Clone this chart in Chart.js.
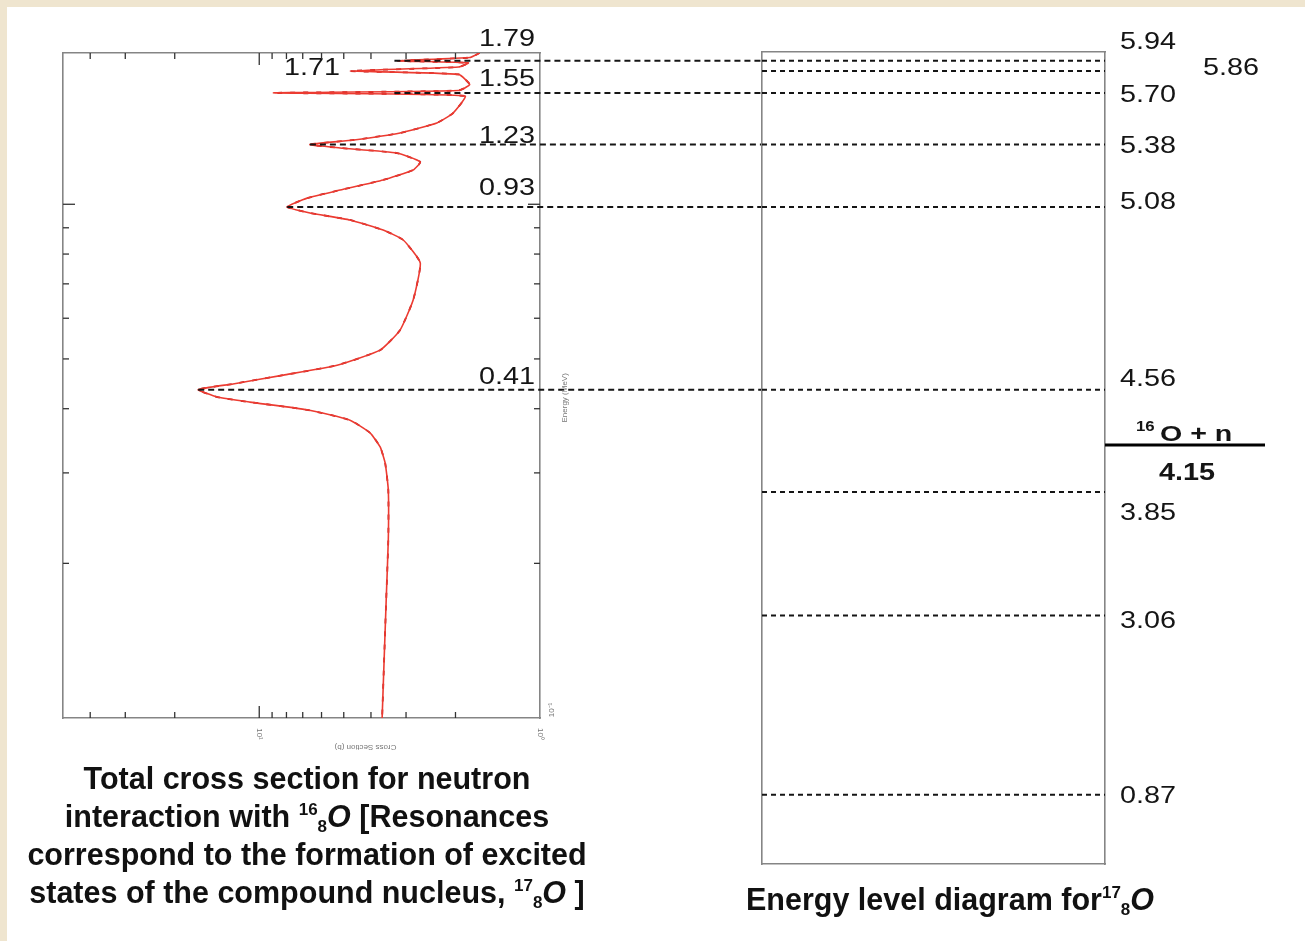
<!DOCTYPE html>
<html>
<head>
<meta charset="utf-8">
<script src="https://cdn.jsdelivr.net/npm/chart.js@4.4.1/dist/chart.umd.min.js"></script>
<style>
  html, body { margin: 0; padding: 0; width: 1305px; height: 941px; overflow: hidden; background: #fff;
               font-family: "Liberation Sans", Arial, sans-serif; }
  #frameTop { position: absolute; left: 0; top: 0; width: 1305px; height: 7px; background: #efe5cf; }
  #frameLeft { position: absolute; left: 0; top: 0; width: 7px; height: 941px; background: #efe5cf; }
  canvas { position: absolute; top: 0; }
  #leftChart { left: 0; }
  #rightChart { left: 760px; }
  .caption { position: absolute; width: 600px; font-weight: bold; font-size: 30.5px; line-height: 38px;
             color: #111; text-align: center; white-space: nowrap; }
  .caption .sup, .caption .sub { font-size: 17px; line-height: 0; position: relative; }
  .caption .sup { top: -12px; }
  .caption .sub { top: 5px; }
</style>
</head>
<body>
<div id="frameTop"></div>
<div id="frameLeft"></div>
<canvas id="leftChart" width="762" height="941"></canvas>
<canvas id="rightChart" width="545" height="941"></canvas>
<div class="caption" style="left:7px; top:759px;">Total cross section for neutron<br>interaction with <span class="sup">16</span><span class="sub">8</span><i>O</i> [Resonances<br>correspond to the formation of excited<br>states of the compound nucleus, <span class="sup">17</span><span class="sub">8</span><i>O</i> ]</div>
<div class="caption" style="left:650px; top:880px;">Energy level diagram for<span class="sup">17</span><span class="sub">8</span><i>O</i></div>

<script>
// resonances in n + 16O, labelled with centre-of-mass energy (MeV)
const resonanceEcm = [0.41, 0.93, 1.23, 1.55, 1.71, 1.79];
// cross section (b) where each dashed guide line starts (null = no guide)
const guideStartSigma = [16.5, 7.95, 6.6, 3.3, null, 3.3];

// total cross section: neutron lab energy (MeV) and sigma (b)
const curveEnergy = [1.97, 1.93, 1.902, 1.885, 1.85, 1.817, 1.79, 1.71, 1.665, 1.647, 1.625,
  1.505, 1.44, 1.376, 1.334, 1.307, 1.287, 1.258, 1.209, 1.166, 1.115, 1.066, 1.028, 0.988,
  0.962, 0.932, 0.891, 0.852, 0.769, 0.651, 0.569, 0.52, 0.486, 0.465, 0.447, 0.4356, 0.4215,
  0.412, 0.398, 0.38, 0.359, 0.337, 0.3135, 0.278, 0.222, 0.17, 0.1];
const curveSigma = [1.64, 1.78, 3.2, 1.8, 1.95, 4.75, 1.95, 1.78, 1.95, 8.9, 1.85,
  2.04, 2.33, 3.15, 4.6, 6.6, 5.15, 3.23, 2.67, 2.83, 3.62, 5.15, 6.75, 7.95,
  6.6, 4.75, 3.62, 3.07, 2.67, 2.83, 3.15, 3.71, 5.28, 8.2, 12.4, 16.5, 14.1,
  10.8, 6.75, 4.75, 4.03, 3.71, 3.56, 3.47, 3.47, 3.53, 3.65];

// excitation energies of 17O (MeV) and the n + 16O separation energy
const levelEnergies = [0.87, 3.06, 3.85, 4.56, 5.08, 5.38, 5.70, 5.86, 5.94];
const separationEnergy = 4.15;

const massRatio = 17 / 16;   // E_lab = E_cm * 17/16

const numFont = '24px "Liberation Sans", Arial, sans-serif';
const inkColor = '#151515';
const frameColor = '#858585';

function drawText(ctx, text, x, y, align, font, stretch) {
  ctx.save();
  ctx.font = font;
  ctx.fillStyle = inkColor;
  ctx.textAlign = align;
  ctx.textBaseline = 'middle';
  ctx.translate(x, y);
  ctx.scale(stretch || 1.2, 1);
  ctx.fillText(text, 0, 0);
  ctx.restore();
}

function isDecadeStep(v) {
  const m = v / Math.pow(10, Math.floor(Math.log10(v) + 1e-9));
  return Math.abs(m - Math.round(m)) < 1e-6 ? Math.round(m) : 0;
}

// small inward tick marks on all four sides (log axes)
const innerTicks = {
  id: 'innerTicks',
  afterDraw(chart) {
    const { ctx, chartArea: a } = chart;
    ctx.save();
    ctx.strokeStyle = '#333';
    ctx.lineWidth = 1.3;
    Object.values(chart.scales).forEach(s => {
      if (s.type !== 'logarithmic') return;
      s.ticks.forEach(t => {
        const m = isDecadeStep(t.value);
        if (!m) return;
        const len = m === 1 ? 12 : 6;
        const p = s.getPixelForValue(t.value);
        ctx.beginPath();
        if (s.isHorizontal()) {
          if (p < a.left + 2 || p > a.right - 2) return;
          const y0 = s.position === 'bottom' ? a.bottom : a.top;
          ctx.moveTo(p, y0);
          ctx.lineTo(p, s.position === 'bottom' ? y0 - len : y0 + len);
        } else {
          if (p < a.top + 2 || p > a.bottom - 2) return;
          const x0 = s.position === 'left' ? a.left : a.right;
          ctx.moveTo(x0, p);
          ctx.lineTo(s.position === 'left' ? x0 + len : x0 - len, p);
        }
        ctx.stroke();
      });
    });
    ctx.restore();
  }
};

// dashed guides from each resonance to the level diagram, plus labels
const resonanceGuides = {
  id: 'resonanceGuides',
  afterDatasetsDraw(chart, args, opts) {
    const { ctx, chartArea: a } = chart;
    const xs = chart.scales.x, ys = chart.scales.y;
    ctx.save();
    ctx.strokeStyle = inkColor;
    ctx.lineWidth = 2;
    ctx.setLineDash([6, 4]);
    resonanceEcm.forEach((e, i) => {
      if (guideStartSigma[i] == null) return;
      const y = ys.getPixelForValue(e * massRatio);
      ctx.beginPath();
      ctx.moveTo(xs.getPixelForValue(guideStartSigma[i]), y);
      ctx.lineTo(chart.width, y);
      ctx.stroke();
    });
    ctx.restore();

    resonanceEcm.forEach((e, i) => {
      const elab = e * massRatio;
      const y = ys.getPixelForValue(elab) + opts.dy[i];
      if (opts.side[i] === 'peak') {
        let k = 0;
        curveEnergy.forEach((v, j) => { if (Math.abs(v - elab) < Math.abs(curveEnergy[k] - elab)) k = j; });
        drawText(ctx, e.toFixed(2), xs.getPixelForValue(curveSigma[k]) - 10, y, 'right', numFont);
      } else {
        drawText(ctx, e.toFixed(2), a.right - 5, y - 12, 'right', numFont);
      }
    });

    // the tiny rotated axis captions of the original plot
    ctx.save();
    ctx.fillStyle = '#777';
    ctx.font = '8px "Liberation Sans", Arial, sans-serif';
    ctx.textAlign = 'center';
    ctx.textBaseline = 'middle';
    const note = (text, x, y, rot) => {
      ctx.save(); ctx.translate(x, y); ctx.rotate(rot); ctx.fillText(text, 0, 0); ctx.restore();
    };
    note('Cross Section (b)', (a.left + a.right) / 2 + 64, a.bottom + 29, Math.PI);
    note('10¹', xs.getPixelForValue(10), a.bottom + 16, Math.PI / 2);
    note('10⁰', xs.getPixelForValue(1), a.bottom + 16, Math.PI / 2);
    note('10⁻¹', a.right + 12, ys.getPixelForValue(0.1) - 8, -Math.PI / 2);
    note('Energy (MeV)', a.right + 25, ys.getPixelForValue(0.42), -Math.PI / 2);
    ctx.restore();
  }
};

const curvePoints = curveEnergy.map((e, i) => ({ x: curveSigma[i], y: e }));

const hiddenAxis = (type, position, extra) => Object.assign({
  type: type,
  position: position,
  grid: { display: false, drawTicks: false, tickLength: 0 },
  ticks: { display: false },
  border: { display: true, color: frameColor, width: 1.6 }
}, extra);

const leftChart = new Chart(document.getElementById('leftChart').getContext('2d'), {
  type: 'scatter',
  data: {
    datasets: [{
      data: curvePoints,
      showLine: true,
      borderColor: '#ec3b31',
      borderWidth: 1.6,
      pointRadius: 0,
      tension: 0.15
    }, {
      data: curvePoints,
      showLine: true,
      borderColor: '#b8161a',
      borderWidth: 1.8,
      borderDash: [5, 8],
      pointRadius: 0,
      tension: 0.15
    }]
  },
  options: {
    responsive: false,
    animation: false,
    events: [],
    layout: { padding: { left: 63, right: 222, top: 53, bottom: 223 } },
    scales: {
      x: hiddenAxis('logarithmic', 'bottom', { min: 1, max: 50, reverse: true }),
      x2: hiddenAxis('logarithmic', 'top', { min: 1, max: 50, reverse: true }),
      y: hiddenAxis('logarithmic', 'left', { min: 0.1, max: 1.97 }),
      y2: hiddenAxis('logarithmic', 'right', { min: 0.1, max: 1.97 })
    },
    plugins: {
      legend: { display: false },
      tooltip: { enabled: false },
      resonanceGuides: { dy: [0, -7, 4, -2, -3, -9], side: ['edge', 'edge', 'edge', 'edge', 'peak', 'edge'] }
    }
  },
  plugins: [innerTicks, resonanceGuides]
});

// level-diagram axis: piecewise linear below threshold, and above it
// the neutron-energy axis of the cross-section plot, so resonances line up
const boundStops = [[0, 0], [3, 0.2946], [separationEnergy, 0.516]];
const logFrom = 0.4;

class SchematicScale extends Chart.LinearScale {
  static id = 'schematic';
  static defaults = {};
  getPixelForValue(v) {
    const h = this.bottom - this.top;
    if (v <= separationEnergy) {
      let f = 0;
      for (let i = 1; i < boundStops.length; i++) {
        const [e0, f0] = boundStops[i - 1], [e1, f1] = boundStops[i];
        if (v <= e1) { f = f0 + (f1 - f0) * (v - e0) / (e1 - e0); break; }
      }
      return this.bottom - f * h;
    }
    const elab = (v - separationEnergy) * massRatio;
    const yLeft = leftChart.scales.y;
    if (elab >= logFrom) return yLeft.getPixelForValue(elab);
    const p0 = this.bottom - boundStops[boundStops.length - 1][1] * h;
    const p1 = yLeft.getPixelForValue(logFrom);
    return p0 + (p1 - p0) * elab / logFrom;
  }
}
Chart.register(SchematicScale);

const levelLabels = {
  id: 'levelLabels',
  afterDatasetsDraw(chart, args, opts) {
    const { ctx, chartArea: a } = chart;
    const ys = chart.scales.y;
    levelEnergies.forEach((e, i) => {
      drawText(ctx, e.toFixed(2), a.right + 15 + opts.dx[i], ys.getPixelForValue(e) + opts.dy[i], 'left', numFont);
    });
    // n + 16O threshold, drawn outside the box
    const yt = ys.getPixelForValue(separationEnergy);
    ctx.save();
    ctx.strokeStyle = '#000';
    ctx.lineWidth = 3;
    ctx.beginPath();
    ctx.moveTo(a.right, yt);
    ctx.lineTo(a.right + 160, yt);
    ctx.stroke();
    ctx.restore();
    drawText(ctx, '16', a.right + 31, yt - 18, 'left', 'bold 14px "Liberation Sans", Arial, sans-serif');
    drawText(ctx, 'O + n', a.right + 55, yt - 10, 'left', 'bold 22px "Liberation Sans", Arial, sans-serif', 1.3);
    drawText(ctx, separationEnergy.toFixed(2), a.right + 82, yt + 28, 'center', 'bold 24px "Liberation Sans", Arial, sans-serif');
  }
};

new Chart(document.getElementById('rightChart').getContext('2d'), {
  type: 'scatter',
  data: {
    datasets: levelEnergies.map(e => ({
      data: [{ x: 0, y: e }, { x: 1, y: e }],
      showLine: true,
      borderColor: inkColor,
      borderWidth: 2,
      borderDash: [5, 4],
      pointRadius: 0
    }))
  },
  options: {
    responsive: false,
    animation: false,
    events: [],
    layout: { padding: { left: 2, right: 200, top: 52, bottom: 77 } },
    scales: {
      x: hiddenAxis('linear', 'bottom', { min: 0, max: 1 }),
      x2: hiddenAxis('linear', 'top', { min: 0, max: 1 }),
      y: hiddenAxis('schematic', 'left', { min: 0, max: 6 }),
      y2: hiddenAxis('linear', 'right', { min: 0, max: 6 })
    },
    plugins: {
      legend: { display: false },
      tooltip: { enabled: false },
      levelLabels: { dx: [0, 0, 0, 0, 0, 0, 0, 83, 0], dy: [2, 6, 21, -10, -5, 2, 2, -3, -18] }
    }
  },
  plugins: [levelLabels]
});
</script>
</body>
</html>
